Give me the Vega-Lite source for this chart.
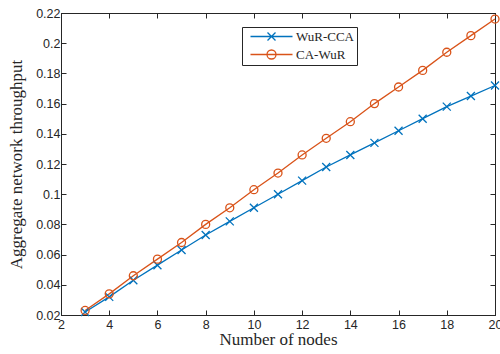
{
  "$schema": "https://vega.github.io/schema/vega-lite/v6.json",
  "width": 434,
  "height": 302,
  "autosize": {"type": "none"},
  "padding": {"left": 61, "top": 13, "right": 5, "bottom": 39},
  "background": "white",
  "config": {
    "view": {"stroke": "#262626", "strokeWidth": 1},
    "axis": {
      "domainColor": "#262626",
      "tickColor": "#262626",
      "labelColor": "#262626",
      "titleColor": "#262626",
      "grid": false,
      "tickSize": -5,
      "labelFlush": false,
      "labelFont": "Liberation Sans",
      "labelFontSize": 12.5,
      "titleFont": "Liberation Serif",
      "titleFontSize": 17,
      "titleFontWeight": "normal"
    }
  },
  "data": {
    "values": [
      {"n": 3, "series": "WuR-CCA", "t": 0.022},
      {"n": 4, "series": "WuR-CCA", "t": 0.032},
      {"n": 5, "series": "WuR-CCA", "t": 0.043},
      {"n": 6, "series": "WuR-CCA", "t": 0.053},
      {"n": 7, "series": "WuR-CCA", "t": 0.063},
      {"n": 8, "series": "WuR-CCA", "t": 0.073},
      {"n": 9, "series": "WuR-CCA", "t": 0.082},
      {"n": 10, "series": "WuR-CCA", "t": 0.091},
      {"n": 11, "series": "WuR-CCA", "t": 0.100},
      {"n": 12, "series": "WuR-CCA", "t": 0.109},
      {"n": 13, "series": "WuR-CCA", "t": 0.118},
      {"n": 14, "series": "WuR-CCA", "t": 0.126},
      {"n": 15, "series": "WuR-CCA", "t": 0.134},
      {"n": 16, "series": "WuR-CCA", "t": 0.142},
      {"n": 17, "series": "WuR-CCA", "t": 0.150},
      {"n": 18, "series": "WuR-CCA", "t": 0.158},
      {"n": 19, "series": "WuR-CCA", "t": 0.165},
      {"n": 20, "series": "WuR-CCA", "t": 0.172},
      {"n": 3, "series": "CA-WuR", "t": 0.023},
      {"n": 4, "series": "CA-WuR", "t": 0.034},
      {"n": 5, "series": "CA-WuR", "t": 0.046},
      {"n": 6, "series": "CA-WuR", "t": 0.057},
      {"n": 7, "series": "CA-WuR", "t": 0.068},
      {"n": 8, "series": "CA-WuR", "t": 0.080},
      {"n": 9, "series": "CA-WuR", "t": 0.091},
      {"n": 10, "series": "CA-WuR", "t": 0.103},
      {"n": 11, "series": "CA-WuR", "t": 0.114},
      {"n": 12, "series": "CA-WuR", "t": 0.126},
      {"n": 13, "series": "CA-WuR", "t": 0.137},
      {"n": 14, "series": "CA-WuR", "t": 0.148},
      {"n": 15, "series": "CA-WuR", "t": 0.160},
      {"n": 16, "series": "CA-WuR", "t": 0.171},
      {"n": 17, "series": "CA-WuR", "t": 0.182},
      {"n": 18, "series": "CA-WuR", "t": 0.194},
      {"n": 19, "series": "CA-WuR", "t": 0.205},
      {"n": 20, "series": "CA-WuR", "t": 0.216}
    ]
  },
  "layer": [
    {
      "mark": {"type": "line", "strokeWidth": 1.3},
      "encoding": {
        "x": {
          "field": "n", "type": "quantitative",
          "scale": {"domain": [2, 20], "nice": false, "zero": false},
          "axis": {"orient": "bottom", "values": [2, 4, 6, 8, 10, 12, 14, 16, 18, 20], "title": "Number of nodes", "labelPadding": 8, "titlePadding": 1}
        },
        "y": {
          "field": "t", "type": "quantitative",
          "scale": {"domain": [0.02, 0.22], "nice": false, "zero": false},
          "axis": {"orient": "left", "values": [0.02, 0.04, 0.06, 0.08, 0.1, 0.12, 0.14, 0.16, 0.18, 0.2, 0.22], "format": "~g", "title": "Aggregate network throughput", "labelPadding": 6, "titlePadding": 10}
        },
        "color": {
          "field": "series", "type": "nominal",
          "scale": {"domain": ["WuR-CCA", "CA-WuR"], "range": ["#0072BD", "#D95319"]},
          "legend": {
            "title": null,
            "orient": "none",
            "legendX": 181,
            "legendY": 14,
            "padding": 3,
            "rowPadding": 3,
            "symbolOffset": 20,
            "labelOffset": 18,
            "strokeColor": "#262626",
            "fillColor": "white",
            "labelFont": "Liberation Serif",
            "labelFontSize": 13,
            "labelColor": "#262626",
            "symbolSize": 100,
            "encode": {
              "symbols": {
                "update": {
                  "shape": {"signal": "datum.value === 'CA-WuR' ? 'M-4.2,0L4.2,0M-0.9,0A0.9,0.9,0,1,0,0.9,0A0.9,0.9,0,1,0,-0.9,0' : 'M-4.2,0L4.2,0M-0.8,-0.8L0.8,0.8M-0.8,0.8L0.8,-0.8'"},
                  "size": {"value": 100},
                  "fill": {"value": "transparent"},
                  "strokeWidth": {"value": 1.3}
                }
              }
            }
          }
        }
      }
    },
    {
      "transform": [{"filter": "datum.series === 'WuR-CCA'"}],
      "mark": {"type": "point", "filled": false, "size": 64, "strokeWidth": 1.3, "opacity": 1, "shape": "M-1,-1L1,1M-1,1L1,-1"},
      "encoding": {
        "x": {
          "field": "n", "type": "quantitative",
          "axis": {"orient": "top", "values": [2, 4, 6, 8, 10, 12, 14, 16, 18, 20], "labels": false, "title": null}
        },
        "y": {
          "field": "t", "type": "quantitative",
          "axis": {"orient": "right", "values": [0.02, 0.04, 0.06, 0.08, 0.1, 0.12, 0.14, 0.16, 0.18, 0.2, 0.22], "labels": false, "title": null}
        },
        "color": {"field": "series", "type": "nominal", "legend": null}
      }
    },
    {
      "transform": [{"filter": "datum.series === 'CA-WuR'"}],
      "mark": {"type": "point", "filled": false, "size": 64, "strokeWidth": 1.3, "opacity": 1, "shape": "circle"},
      "encoding": {
        "x": {"field": "n", "type": "quantitative", "axis": null},
        "y": {"field": "t", "type": "quantitative", "axis": null},
        "color": {"field": "series", "type": "nominal", "legend": null}
      }
    }
  ],
  "resolve": {"axis": {"x": "independent", "y": "independent"}}
}
